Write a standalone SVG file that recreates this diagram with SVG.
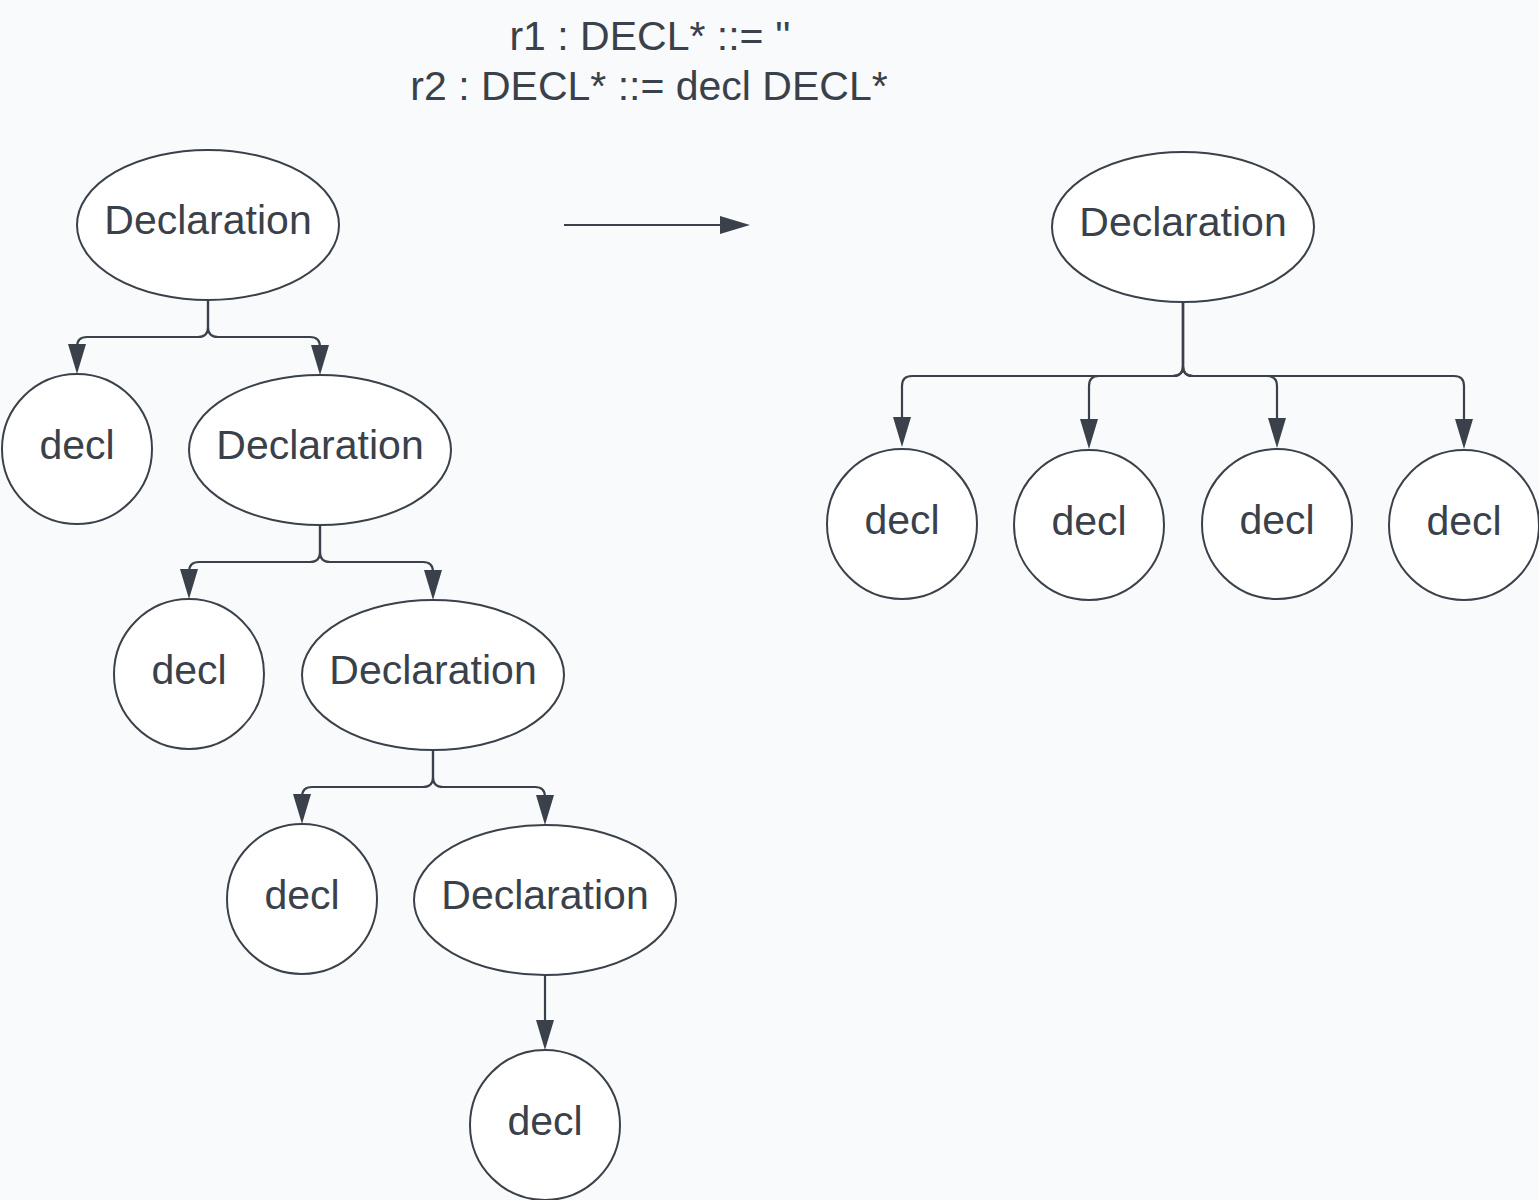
<svg xmlns="http://www.w3.org/2000/svg" width="1539" height="1200" viewBox="0 0 1539 1200">
<defs>
<style>
.node{fill:#ffffff;stroke:#3a414a;stroke-width:2}
.lbl{font-family:"Liberation Sans",Arial,sans-serif;font-size:41px;fill:#3a414a;text-anchor:middle}
.con{fill:none;stroke:#3a414a;stroke-width:2.2}
</style>
<marker id="arr" markerUnits="userSpaceOnUse" markerWidth="30" markerHeight="18" viewBox="0 0 30 18" refX="20" refY="9" orient="auto">
<path d="M0,0 L30,9 L0,18 Z" fill="#3a414a"/>
</marker>
</defs>
<rect x="0" y="0" width="1539" height="1200" fill="#f9fafb"/>
<g id="title">
<text class="lbl" x="650" y="50">r1 : DECL* ::= ''</text>
<text class="lbl" x="649" y="100">r2 : DECL* ::= decl DECL*</text>
</g>
<g id="connectors">
<path class="con" d="M208,300 V327 Q208,337 198,337 H87 Q77,337 77,347 V364" marker-end="url(#arr)"/>
<path class="con" d="M208,300 V327 Q208,337 218,337 H310 Q320,337 320,347 V365" marker-end="url(#arr)"/>
<path class="con" d="M320,525 V552 Q320,562 310,562 H199 Q189,562 189,572 V589" marker-end="url(#arr)"/>
<path class="con" d="M320,525 V552 Q320,562 330,562 H423 Q433,562 433,572 V590" marker-end="url(#arr)"/>
<path class="con" d="M433,750 V777 Q433,787 423,787 H312 Q302,787 302,797 V814" marker-end="url(#arr)"/>
<path class="con" d="M433,750 V777 Q433,787 443,787 H535 Q545,787 545,797 V815" marker-end="url(#arr)"/>
<path class="con" d="M545,975 V1040" marker-end="url(#arr)"/>
<path class="con" d="M564,225 H740" marker-end="url(#arr)"/>
<path class="con" d="M1183,302 V366 Q1183,376 1173,376 H912 Q902,376 902,386 V437" marker-end="url(#arr)"/>
<path class="con" d="M1183,302 V366 Q1183,376 1173,376 H1099 Q1089,376 1089,386 V439" marker-end="url(#arr)"/>
<path class="con" d="M1183,302 V366 Q1183,376 1193,376 H1267 Q1277,376 1277,386 V438" marker-end="url(#arr)"/>
<path class="con" d="M1183,302 V366 Q1183,376 1193,376 H1454 Q1464,376 1464,386 V439" marker-end="url(#arr)"/>
</g>
<g id="decl-root"><ellipse class="node" cx="208" cy="225" rx="131" ry="75"/><text class="lbl" x="208" y="234">Declaration</text></g>
<g id="decl-a"><circle class="node" cx="77" cy="449" r="75"/><text class="lbl" x="77" y="459">decl</text></g>
<g id="decl-2"><ellipse class="node" cx="320" cy="450" rx="131" ry="75"/><text class="lbl" x="320" y="459">Declaration</text></g>
<g id="decl-b"><circle class="node" cx="189" cy="674" r="75"/><text class="lbl" x="189" y="684">decl</text></g>
<g id="decl-3"><ellipse class="node" cx="433" cy="675" rx="131" ry="75"/><text class="lbl" x="433" y="684">Declaration</text></g>
<g id="decl-c"><circle class="node" cx="302" cy="899" r="75"/><text class="lbl" x="302" y="909">decl</text></g>
<g id="decl-4"><ellipse class="node" cx="545" cy="900" rx="131" ry="75"/><text class="lbl" x="545" y="909">Declaration</text></g>
<g id="decl-d"><circle class="node" cx="545" cy="1125" r="75"/><text class="lbl" x="545" y="1135">decl</text></g>
<g id="decl-flat"><ellipse class="node" cx="1183" cy="227" rx="131" ry="75"/><text class="lbl" x="1183" y="236">Declaration</text></g>
<g id="flat-1"><circle class="node" cx="902" cy="524" r="75"/><text class="lbl" x="902" y="534">decl</text></g>
<g id="flat-2"><circle class="node" cx="1089" cy="525" r="75"/><text class="lbl" x="1089" y="535">decl</text></g>
<g id="flat-3"><circle class="node" cx="1277" cy="524" r="75"/><text class="lbl" x="1277" y="534">decl</text></g>
<g id="flat-4"><circle class="node" cx="1464" cy="525" r="75"/><text class="lbl" x="1464" y="535">decl</text></g>
</svg>
